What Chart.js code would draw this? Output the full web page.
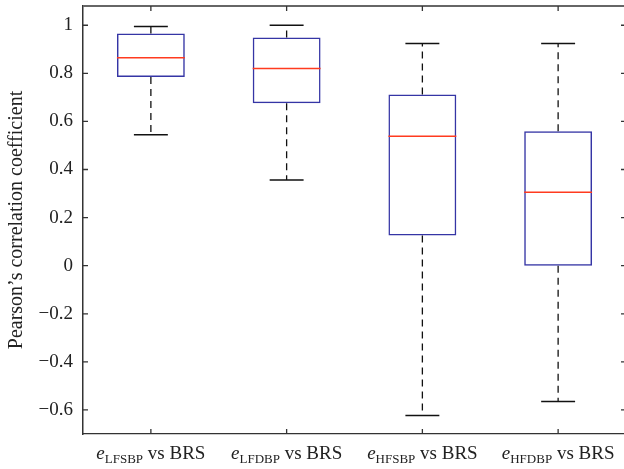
<!DOCTYPE html>
<html>
<head>
<meta charset="utf-8">
<script src="https://cdn.jsdelivr.net/npm/chart.js@4"></script>
<style>
  body { margin: 0; overflow: hidden; background: #fff; }
</style>
</head>
<body>
<canvas id="boxChart" width="630" height="469"></canvas>
<script>
// data
const xSubs = ["LFSBP", "LFDBP", "HFSBP", "HFDBP"];
const categories = xSubs.map((s) => "e" + s + " vs BRS");
const lowWhisker = [0.545, 0.356, -0.623, -0.565];
const q1 = [0.785, 0.676, 0.126, 0.0];
const median = [0.865, 0.82, 0.538, 0.305];
const q3 = [0.966, 0.949, 0.712, 0.559];
const highWhisker = [0.995, 1.0, 0.924, 0.924];
const yTicks = [-0.6, -0.4, -0.2, 0, 0.2, 0.4, 0.6, 0.8, 1];

const serif = "'Liberation Serif', 'Times New Roman', serif";

// whiskers, caps, medians, frame ticks and subscript labels
const boxExtras = {
  id: "boxExtras",
  afterDatasetsDraw(chart) {
    const ctx = chart.ctx;
    const xs = chart.scales.x;
    const ys = chart.scales.y;
    const catW = xs.getPixelForValue(1) - xs.getPixelForValue(0);
    const boxHalf = catW * 0.25;
    const capHalf = catW * 0.125;
    ctx.save();
    for (let i = 0; i < categories.length; i++) {
      const x = xs.getPixelForValue(i);
      // dashed whiskers
      ctx.strokeStyle = "#111";
      ctx.lineWidth = 1.3;
      ctx.setLineDash([7, 5]);
      ctx.beginPath();
      ctx.moveTo(x, ys.getPixelForValue(q3[i]));
      ctx.lineTo(x, ys.getPixelForValue(highWhisker[i]));
      ctx.moveTo(x, ys.getPixelForValue(q1[i]));
      ctx.lineTo(x, ys.getPixelForValue(lowWhisker[i]));
      ctx.stroke();
      // caps
      ctx.setLineDash([]);
      ctx.lineWidth = 1.5;
      ctx.beginPath();
      [highWhisker[i], lowWhisker[i]].forEach((v) => {
        const y = ys.getPixelForValue(v);
        ctx.moveTo(x - capHalf, y);
        ctx.lineTo(x + capHalf, y);
      });
      ctx.stroke();
      // median
      ctx.strokeStyle = "#ff3b1f";
      ctx.lineWidth = 1.5;
      ctx.beginPath();
      const ym = ys.getPixelForValue(median[i]);
      ctx.moveTo(x - boxHalf, ym);
      ctx.lineTo(x + boxHalf, ym);
      ctx.stroke();
    }
    ctx.restore();
  },
  afterDraw(chart) {
    const ctx = chart.ctx;
    const a = chart.chartArea;
    const xs = chart.scales.x;
    const ys = chart.scales.y;
    ctx.save();
    // top and right frame
    ctx.strokeStyle = "#666";
    ctx.lineWidth = 2;
    ctx.beginPath();
    ctx.moveTo(a.left, a.top);
    ctx.lineTo(a.right, a.top);
    ctx.lineTo(a.right, a.bottom);
    ctx.stroke();
    // inward ticks
    ctx.strokeStyle = "#333";
    ctx.lineWidth = 1.3;
    ctx.beginPath();
    yTicks.forEach((v) => {
      const y = ys.getPixelForValue(v);
      ctx.moveTo(a.left, y);
      ctx.lineTo(a.left + 5, y);
      ctx.moveTo(a.right, y);
      ctx.lineTo(a.right - 5, y);
    });
    categories.forEach((c, i) => {
      const x = xs.getPixelForValue(i);
      ctx.moveTo(x, a.bottom);
      ctx.lineTo(x, a.bottom - 5);
      ctx.moveTo(x, a.top);
      ctx.lineTo(x, a.top + 5);
    });
    ctx.stroke();
    // x labels: italic e, subscript, " vs BRS"
    ctx.fillStyle = "#222";
    ctx.textBaseline = "alphabetic";
    ctx.textAlign = "left";
    const fE = "italic 19px " + serif;
    const fSub = "13px " + serif;
    const fMain = "19px " + serif;
    xSubs.forEach((s, i) => {
      ctx.font = fE;
      const wE = ctx.measureText("e").width;
      ctx.font = fSub;
      const wS = ctx.measureText(s).width;
      ctx.font = fMain;
      const wM = ctx.measureText(" vs BRS").width;
      let x = xs.getPixelForValue(i) - (wE + wS + wM) / 2;
      ctx.font = fE;
      ctx.fillText("e", x, 459);
      x += wE;
      ctx.font = fSub;
      ctx.fillText(s, x, 463);
      x += wS;
      ctx.font = fMain;
      ctx.fillText(" vs BRS", x, 459);
    });
    ctx.restore();
  },
};

const ctx = document.getElementById("boxChart").getContext("2d");

const boxChart = new Chart(ctx, {
  type: "bar",
  data: {
    labels: categories,
    datasets: [
      {
        data: q1.map((v, i) => [v, q3[i]]),
        backgroundColor: "rgba(255, 255, 255, 0)",
        borderColor: "#3535a5",
        borderWidth: 1.5,
        borderSkipped: false,
        barPercentage: 0.5,
        categoryPercentage: 1,
      },
    ],
  },
  options: {
    responsive: false,
    animation: false,
    layout: { padding: { top: 6, right: 4, left: 0, bottom: 0 } },
    plugins: {
      legend: { display: false },
      tooltip: { enabled: false },
    },
    scales: {
      x: {
        offset: true,
        grid: { display: false, drawTicks: false },
        border: { display: true, color: "#333", width: 1.3 },
        ticks: { display: false },
        afterFit: (s) => { s.height = 35; s.paddingLeft = 0; s.paddingRight = 0; },
      },
      y: {
        min: -0.7,
        max: 1.08,
        grid: { display: false, drawTicks: false },
        border: { display: true, color: "#333", width: 1.5 },
        afterBuildTicks: (s) => { s.ticks = yTicks.map((v) => ({ value: v })); },
        afterFit: (s) => { s.width = 83; s.paddingTop = 0; s.paddingBottom = 0; },
        ticks: {
          padding: 10,
          color: "#222",
          font: { family: serif, size: 19 },
          callback: (v) => String(Math.round(v * 10) / 10).replace("-", "\u2212"),
        },
        title: {
          display: true,
          text: "Pearson\u2019s correlation coefficient",
          color: "#222",
          font: { family: serif, size: 20 },
          padding: { top: 5, bottom: 0 },
        },
      },
    },
  },
  plugins: [boxExtras],
});
</script>
</body>
</html>
